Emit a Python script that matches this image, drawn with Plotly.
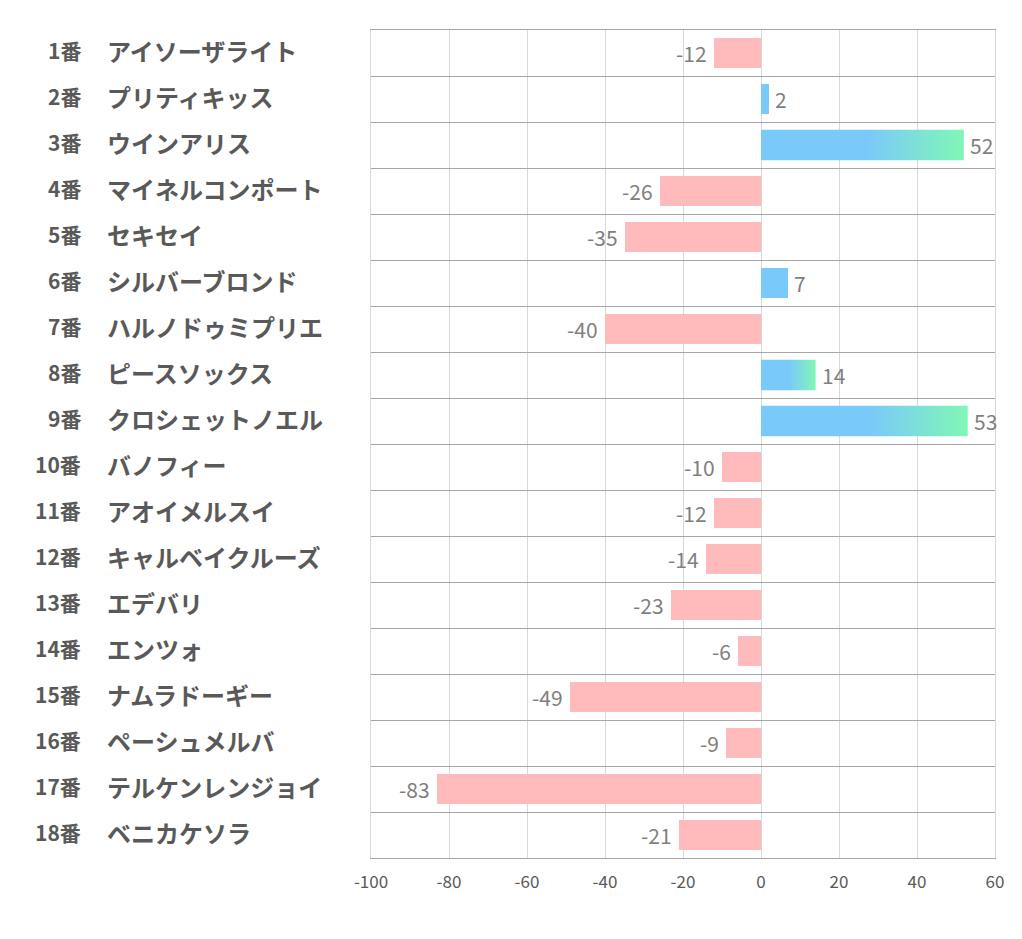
import plotly.graph_objects as go

numbers = ["1番", "2番", "3番", "4番", "5番", "6番", "7番", "8番", "9番", "10番",
           "11番", "12番", "13番", "14番", "15番", "16番", "17番", "18番"]
names = ["アイソーザライト", "プリティキッス", "ウインアリス", "マイネルコンポート", "セキセイ",
         "シルバーブロンド", "ハルノドゥミプリエ", "ピースソックス", "クロシェットノエル", "バノフィー",
         "アオイメルスイ", "キャルベイクルーズ", "エデバリ", "エンツォ", "ナムラドーギー",
         "ペーシュメルバ", "テルケンレンジョイ", "ベニカケソラ"]
values = [-12, 2, 52, -26, -35, 7, -40, 14, 53, -10, -12, -14, -23, -6, -49, -9, -83, -21]
x_ticks = [-100, -80, -60, -40, -20, 0, 20, 40, 60]
x_tick_text = ["-100", "-80", "-60", "-40", "-20", "0", "20", "40", "60"]

PINK = "#ffbbbb"
BLUE = "#7ac9fb"
GREEN = "#80f7b6"
BAR_W = 0.66
GRADIENT_MIN = 10
FONT = "Noto Sans CJK JP"

fig = go.Figure()

idx = list(range(len(values)))
neg_idx = [i for i in idx if values[i] < 0]
fig.add_trace(go.Bar(
    x=[values[i] for i in neg_idx], y=neg_idx, orientation="h",
    marker=dict(color=PINK, line=dict(width=0)), width=BAR_W,
    hoverinfo="skip", showlegend=False,
))
small_pos = [i for i in idx if 0 < values[i] < GRADIENT_MIN]
fig.add_trace(go.Bar(
    x=[values[i] for i in small_pos], y=small_pos, orientation="h",
    marker=dict(color=BLUE, line=dict(width=0)), width=BAR_W,
    hoverinfo="skip", showlegend=False,
))

for i in idx:
    v = values[i]
    if v >= GRADIENT_MIN:
        h = BAR_W / 2
        fig.add_trace(go.Scatter(
            x=[0, v, v, 0, 0], y=[i - h, i - h, i + h, i + h, i - h],
            mode="lines", line=dict(width=0), fill="toself",
            fillgradient=dict(type="horizontal",
                              colorscale=[[0, BLUE], [0.52, BLUE], [1, GREEN]]),
            hoverinfo="skip", showlegend=False,
        ))

annotations = []
for i, v in enumerate(values):
    annotations.append(dict(
        x=v, y=i, xref="x", yref="y", text=str(v), showarrow=False,
        xanchor="right" if v < 0 else "left", xshift=-5 if v < 0 else 4, yshift=0,
        font=dict(family=FONT, size=21, color="#7f7f7f"),
    ))
    annotations.append(dict(
        x=-0.4615, y=i, xref="paper", yref="y", text="<b>" + numbers[i] + "</b>",
        showarrow=False, xanchor="right", yshift=3,
        font=dict(family=FONT, size=21, color="#595959"),
    ))
    annotations.append(dict(
        x=-0.427, y=i, xref="paper", yref="y", text="<b>" + names[i] + "</b>",
        showarrow=False, xanchor="left", yshift=3,
        font=dict(family=FONT, size=24, color="#595959"),
    ))

fig.update_layout(
    width=1014, height=931,
    margin=dict(l=363, r=27, t=22, b=81),
    paper_bgcolor="white", plot_bgcolor="white",
    annotations=annotations,
    xaxis=dict(range=[-100, 60], tickvals=x_ticks, ticktext=x_tick_text,
               showgrid=True, gridcolor="#d9d9d9",
               gridwidth=1, zeroline=False, showline=True, linecolor="#a6a6a6",
               linewidth=1, mirror=True, ticks="",
               ticklabelstandoff=9,
               tickfont=dict(family=FONT, size=17, color="#595959")),
    yaxis=dict(range=[17.5, -0.5], tick0=0.5, dtick=1, showticklabels=False,
               showgrid=True, gridcolor="#a6a6a6", gridwidth=1, zeroline=False,
               showline=True, linecolor="#d9d9d9", linewidth=1, mirror=True, ticks=""),
    bargap=0,
)

fig.write_html("out.html")
